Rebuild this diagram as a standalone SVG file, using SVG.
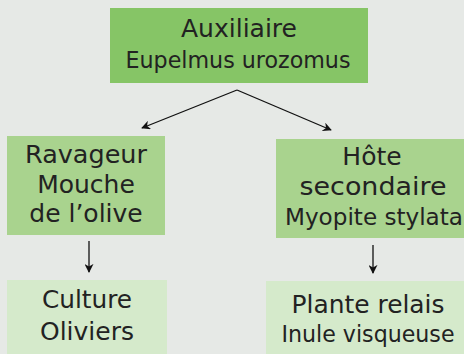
<svg xmlns="http://www.w3.org/2000/svg" width="464" height="354" viewBox="0 0 464 354">
<style>
.t{font-family:"DejaVu Sans","Liberation Sans",sans-serif;fill:#222;text-anchor:middle}
.big{font-size:25px}
.mid{font-size:22.5px}
.c{stroke:#111;stroke-width:1.3;fill:none}
</style>
<defs>
<marker id="ah" viewBox="0 0 10 10" refX="9" refY="5" markerWidth="9" markerHeight="9" markerUnits="userSpaceOnUse" orient="auto">
<path d="M0,0 L10,5 L0,10 L3,5 Z" fill="#111"/>
</marker>
</defs>
<rect width="464" height="354" fill="#e6e9e6"/>
<g id="connectors">
<path class="c" d="M237,90 L142,128" marker-end="url(#ah)"/>
<path class="c" d="M237,90 L331,130" marker-end="url(#ah)"/>
<path class="c" d="M89,241 L89,272" marker-end="url(#ah)"/>
<path class="c" d="M373,245 L373,273" marker-end="url(#ah)"/>
</g>
<g id="auxiliaire">
<rect x="110" y="8" width="258" height="75" fill="#86c566"/>
<text class="t big" x="239" y="37">Auxiliaire</text>
<text class="t mid" x="238" y="68" textLength="225" lengthAdjust="spacingAndGlyphs">Eupelmus urozomus</text>
</g>
<g id="ravageur">
<rect x="7" y="136" width="158" height="99" fill="#a9d38e"/>
<text class="t big" x="86" y="163" textLength="122" lengthAdjust="spacingAndGlyphs">Ravageur</text>
<text class="t big" x="86" y="193">Mouche</text>
<text class="t big" x="86" y="222">de l’olive</text>
</g>
<g id="hote">
<rect x="276" y="139" width="188" height="99" fill="#a9d38e"/>
<text class="t big" x="372" y="165">Hôte</text>
<text class="t big" x="373" y="195" textLength="147" lengthAdjust="spacingAndGlyphs">secondaire</text>
<text class="t mid" x="374" y="225" textLength="178" lengthAdjust="spacingAndGlyphs">Myopite stylata</text>
</g>
<g id="culture">
<rect x="7" y="280" width="160" height="74" fill="#d5eacb"/>
<text class="t big" x="87" y="308" textLength="90" lengthAdjust="spacingAndGlyphs">Culture</text>
<text class="t big" x="87" y="340">Oliviers</text>
</g>
<g id="plante">
<rect x="266" y="281" width="198" height="73" fill="#d5eacb"/>
<text class="t big" x="368" y="313" textLength="153" lengthAdjust="spacingAndGlyphs">Plante relais</text>
<text class="t mid" x="368" y="342" textLength="173" lengthAdjust="spacingAndGlyphs">Inule visqueuse</text>
</g>
</svg>
